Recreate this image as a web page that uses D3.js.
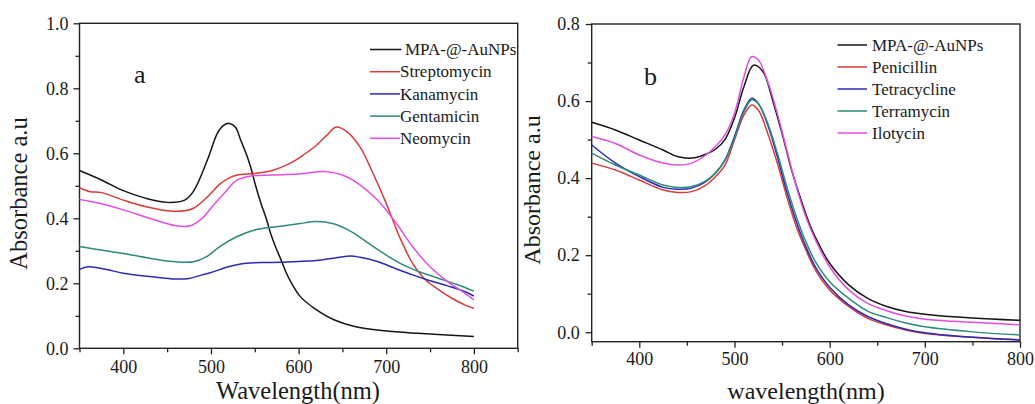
<!DOCTYPE html>
<html><head><meta charset="utf-8">
<script src="https://cdn.jsdelivr.net/npm/d3@7"></script>
<style>
body{margin:0;background:#fff;}
svg text{font-family:"Liberation Serif","Times New Roman",serif !important;fill:#1a1a1a;}
</style></head>
<body><svg id="c" width="1035" height="404" font-family="Liberation Serif"></svg>
<script>
// ---------- Panel a data ----------
const aNames = ["MPA-@-AuNPs","Streptomycin","Kanamycin","Gentamicin","Neomycin"];
const aColors = ["#151515","#d93a3a","#2b2bb5","#2f8a7a","#e24ee2"];
const aMPA_x = [350,375,400,425,450,470,480,496,507,514,521,528,534,540,545,551,557,563,568,574,580,585,591,602,618,641,664,698,736,800];
const aMPA_y = [0.547,0.518,0.485,0.462,0.449,0.456,0.483,0.58,0.66,0.685,0.692,0.68,0.64,0.6,0.56,0.5,0.446,0.4,0.354,0.31,0.272,0.238,0.205,0.159,0.123,0.087,0.067,0.054,0.046,0.036];
const aStr_x = [350,362,375,400,425,450,470,480,490,500,510,520,530,550,570,590,605,620,632,643,655,670,685,700,715,730,745,760,775,790,800];
const aStr_y = [0.494,0.482,0.479,0.456,0.436,0.423,0.423,0.431,0.451,0.477,0.505,0.523,0.533,0.538,0.547,0.569,0.594,0.624,0.655,0.681,0.667,0.62,0.538,0.446,0.344,0.262,0.21,0.18,0.154,0.133,0.123];
const aKan_x = [350,360,380,400,430,460,475,490,500,520,540,570,600,620,640,660,670,690,710,730,750,770,790,800];
const aKan_y = [0.243,0.251,0.243,0.231,0.221,0.213,0.215,0.226,0.233,0.251,0.262,0.264,0.267,0.27,0.277,0.284,0.28,0.267,0.246,0.226,0.208,0.192,0.174,0.161];
const aGen_x = [350,380,400,430,460,480,495,510,530,550,575,600,620,640,660,680,700,720,740,760,780,800];
const aGen_y = [0.313,0.3,0.292,0.277,0.266,0.266,0.282,0.313,0.344,0.364,0.374,0.383,0.39,0.383,0.359,0.323,0.287,0.256,0.233,0.215,0.197,0.176];
const aNeo_x = [350,370,400,430,460,475,490,500,515,530,545,570,600,630,650,670,690,710,730,750,770,790,800];
const aNeo_y = [0.458,0.448,0.426,0.4,0.377,0.376,0.4,0.431,0.477,0.518,0.53,0.533,0.536,0.544,0.533,0.503,0.456,0.39,0.313,0.251,0.205,0.169,0.149];

// ---------- Panel b data ----------
const bNames = ["MPA-@-AuNPs","Penicillin","Tetracycline","Terramycin","Ilotycin"];
const bColors = ["#151515","#d93a3a","#2b2bb5","#2f8a7a","#e24ee2"];
const bX = [350,375,400,425,440,455,470,480,490,500,510,518,525,535,545,555,565,575,585,600,620,640,660,680,700,750,800];
const bMPA_x = [350,375,400,425,440,455,470,480,490,500,510,520,530,540,550,560,570,580,590,600,620,640,660,680,700,750,800];
const bMPA_y = [0.545,0.525,0.499,0.473,0.456,0.452,0.462,0.475,0.5,0.556,0.638,0.693,0.676,0.603,0.516,0.421,0.343,0.274,0.222,0.179,0.123,0.088,0.067,0.054,0.047,0.037,0.031];
const bPen_y = [0.439,0.421,0.395,0.369,0.363,0.365,0.382,0.404,0.434,0.499,0.564,0.59,0.577,0.516,0.439,0.352,0.274,0.214,0.162,0.11,0.067,0.036,0.019,0.006,-0.003,-0.013,-0.02];
const bTet_y = [0.486,0.439,0.404,0.376,0.371,0.374,0.391,0.413,0.447,0.508,0.577,0.607,0.594,0.538,0.456,0.365,0.287,0.222,0.17,0.117,0.071,0.041,0.022,0.008,-0.001,-0.013,-0.02];
const bTer_y = [0.465,0.434,0.408,0.382,0.376,0.378,0.393,0.413,0.446,0.503,0.573,0.603,0.593,0.542,0.465,0.378,0.3,0.235,0.183,0.131,0.088,0.055,0.038,0.024,0.014,0.001,-0.007];
const bIlo_y = [0.508,0.49,0.46,0.439,0.434,0.439,0.46,0.482,0.512,0.568,0.663,0.715,0.707,0.65,0.568,0.473,0.378,0.3,0.24,0.17,0.11,0.075,0.056,0.042,0.034,0.026,0.019];

const svg = d3.select("#c");
const FONT = "Liberation Serif, Times New Roman, serif";

function zip(xs, ys){ return xs.map((x,i)=>[x, ys[i]]); }

function panel(cfg){
  const g = svg.append("g");
  const x = d3.scaleLinear().domain(cfg.xd).range(cfg.xr);
  const y = d3.scaleLinear().domain(cfg.yd).range(cfg.yr);
  const [x0,x1] = cfg.xr, [y0,y1] = cfg.yr;
  g.append("rect").attr("x",x0).attr("y",y1).attr("width",x1-x0).attr("height",y0-y1)
    .attr("fill","none").attr("stroke","#222").attr("stroke-width",1.4);
  const styleAxis = (sel)=>{ sel.attr("font-family",FONT).attr("font-size",18);
    sel.select(".domain").remove(); sel.selectAll("line").attr("stroke","#222").attr("stroke-width",1.3);
    sel.selectAll("text").attr("fill","#1a1a1a"); };
  g.append("g").attr("transform",`translate(0,${y0})`)
    .call(d3.axisBottom(x).tickValues(cfg.xMinor).tickSize(4).tickFormat("")).call(styleAxis);
  g.append("g").attr("transform",`translate(0,${y0})`)
    .call(d3.axisBottom(x).tickValues(cfg.xMajor).tickSize(6).tickPadding(cfg.xpad).tickFormat(d3.format("d"))).call(styleAxis);
  g.append("g").attr("transform",`translate(${x0},0)`)
    .call(d3.axisLeft(y).tickValues(cfg.yMinor).tickSize(4).tickFormat("")).call(styleAxis);
  g.append("g").attr("transform",`translate(${x0},0)`)
    .call(d3.axisLeft(y).tickValues(cfg.yMajor).tickSize(6).tickPadding(cfg.ypad).tickFormat(d3.format(".1f"))).call(styleAxis);
  const line = d3.line().x(d=>x(d[0])).y(d=>y(d[1])).curve(d3.curveCatmullRom.alpha(0.5));
  cfg.series.forEach((s,i)=>{
    g.append("path").datum(s).attr("d",line).attr("fill","none")
      .attr("stroke",cfg.colors[i]).attr("stroke-width",1.5);
  });
  cfg.names.forEach((n,i)=>{
    const ly = cfg.ly0 + i*cfg.ldy;
    g.append("line").attr("x1",cfg.lx0).attr("x2",i===0?cfg.lx1m:cfg.lx1).attr("y1",ly).attr("y2",ly)
      .attr("stroke",cfg.colors[i]).attr("stroke-width",1.5);
    g.append("text").attr("x",i===0?cfg.ltxm:cfg.ltx).attr("y",ly).attr("dy","0.33em")
      .attr("font-family",FONT).attr("font-size",17).text(n);
  });
  g.append("text").attr("x",cfg.xtx).attr("y",cfg.xty).attr("text-anchor","middle")
    .attr("font-family",FONT).attr("font-size",cfg.tfs).text(cfg.xtitle);
  g.append("text").attr("transform",`translate(${cfg.ytx},${cfg.yty}) rotate(-90)`).attr("text-anchor","middle")
    .attr("font-family",FONT).attr("font-size",cfg.tfs).text("Absorbance a.u");
  g.append("text").attr("x",cfg.labx).attr("y",cfg.laby).attr("font-family",FONT).attr("font-size",26).text(cfg.lab);
}

panel({
  xd:[350,850], xr:[79.5,517.7], yd:[0,1], yr:[348.3,23.3],
  xMajor:[400,500,600,700,800], xMinor:[350,450,550,650,750,850],
  yMajor:[0,0.2,0.4,0.6,0.8,1.0], yMinor:[0.1,0.3,0.5,0.7,0.9],
  xpad:6, ypad:5,
  series:[zip(aMPA_x,aMPA_y),zip(aStr_x,aStr_y),zip(aKan_x,aKan_y),zip(aGen_x,aGen_y),zip(aNeo_x,aNeo_y)],
  colors:aColors, names:aNames,
  ly0:49.5, ldy:22.2, lx0:370, lx1:400, lx1m:401.5, ltx:400, ltxm:405,
  xtitle:"Wavelength(nm)", xtx:298, xty:398.5, ytx:27, yty:193.5, tfs:24.5,
  lab:"a", labx:134, laby:83
});

panel({
  xd:[350,800], xr:[591.7,1020], yd:[-0.0245,0.8], yr:[341.7,24],
  xMajor:[400,500,600,700,800], xMinor:[350,450,550,650,750],
  yMajor:[0,0.2,0.4,0.6,0.8], yMinor:[0.1,0.3,0.5,0.7],
  xpad:4.5, ypad:6,
  series:[zip(bMPA_x,bMPA_y),zip(bX,bPen_y),zip(bX,bTet_y),zip(bX,bTer_y),zip(bX,bIlo_y)],
  colors:bColors, names:bNames,
  ly0:45, ldy:22, lx0:837.5, lx1:867, lx1m:867, ltx:872, ltxm:872,
  xtitle:"wavelength(nm)", xtx:806, xty:398.5, ytx:540, yty:190, tfs:24,
  lab:"b", labx:644, laby:85
});
</script></body></html>
